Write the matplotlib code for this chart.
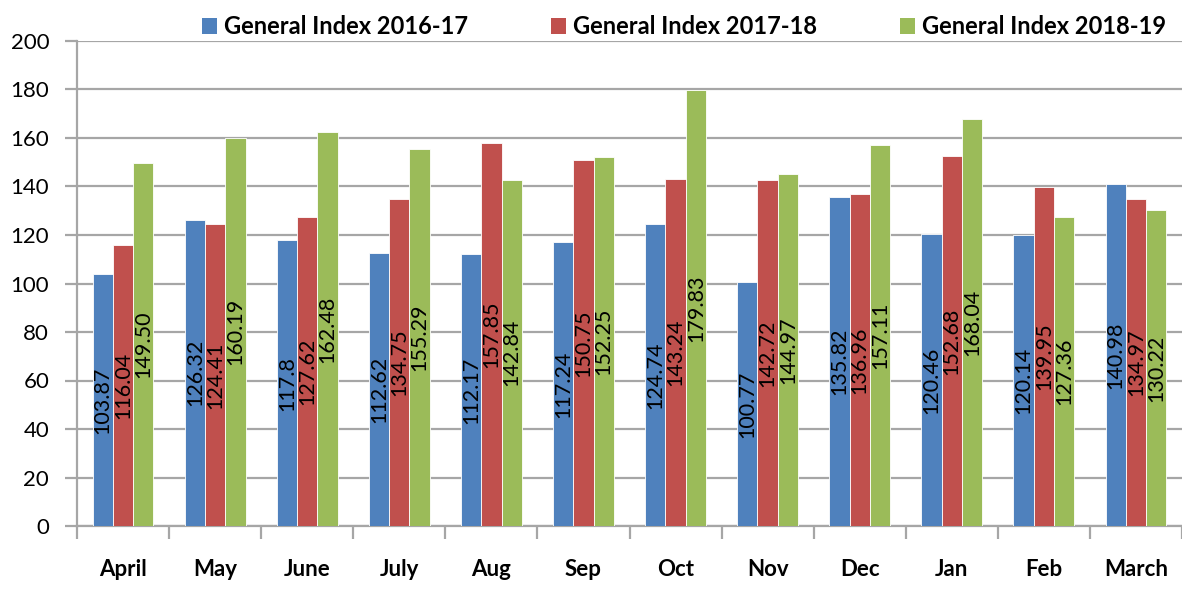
import numpy as np
import matplotlib.pyplot as plt
from matplotlib.patches import Patch

months = ["April", "May", "June", "July", "Aug", "Sep", "Oct", "Nov", "Dec", "Jan", "Feb", "March"]
series_names = ["General Index 2016-17", "General Index 2017-18", "General Index 2018-19"]

# labels exactly as printed on the chart
idx_2016_17 = ["103.87", "126.32", "117.8", "112.62", "112.17", "117.24",
               "124.74", "100.77", "135.82", "120.46", "120.14", "140.98"]
idx_2017_18 = ["116.04", "124.41", "127.62", "134.75", "157.85", "150.75",
               "143.24", "142.72", "136.96", "152.68", "139.95", "134.97"]
idx_2018_19 = ["149.50", "160.19", "162.48", "155.29", "142.84", "152.25",
               "179.83", "144.97", "157.11", "168.04", "127.36", "130.22"]

colors = ["#4F81BD", "#C0504D", "#9BBB59"]
grid_col = "#A6A6A6"

plt.rcParams['font.family'] = ['Lato', 'DejaVu Sans']

fig = plt.figure(figsize=(11.82, 5.96), dpi=100)
ax = fig.add_axes([77 / 1182, 70 / 596, 1 - 77 / 1182, (526 - 41) / 596])

x = np.arange(len(months))
w = 0.22
for k, (lab, vals) in enumerate(zip(series_names, [idx_2016_17, idx_2017_18, idx_2018_19])):
    nums = [float(v) for v in vals]
    bars = ax.bar(x + (k - 1) * w, nums, w, color=colors[k], edgecolor="white",
                  linewidth=0.6, label=lab, zorder=3)
    ax.bar_label(bars, labels=vals, label_type="center", rotation=90, fontsize=15.5, zorder=4)

ax.set_ylim(0, 200)
ax.set_yticks(range(0, 201, 20))
ax.set_xlim(-0.5, 11.5 - 6 / 92.3)
ax.yaxis.grid(True, color=grid_col, linewidth=1.6, zorder=0)
ax.set_axisbelow(True)

for s in ["top", "right"]:
    ax.spines[s].set_visible(False)
for s in ["left", "bottom"]:
    ax.spines[s].set_color(grid_col)
    ax.spines[s].set_linewidth(1.6)

ax.tick_params(axis="y", length=9, width=1.6, color=grid_col, labelsize=16, pad=11)
ax.set_xticks(x)
ax.set_xticklabels(months, fontsize=16, fontweight="bold")
ax.tick_params(axis="x", which="major", length=0, pad=24)
ax.set_xticks(np.arange(-0.5, 12, 1), minor=True)
ax.tick_params(axis="x", which="minor", length=9, width=1.6, color=grid_col)

handles = [Patch(facecolor=c) for c in colors]
fig.legend(handles, series_names, loc="center", bbox_to_anchor=(684 / 1182, 1 - 27 / 596),
           ncol=3, frameon=False, prop={"weight": "bold", "size": 17},
           handlelength=0.65, handleheight=0.65, handletextpad=0.3, columnspacing=3.5)

fig.savefig("out.png", dpi=100)
